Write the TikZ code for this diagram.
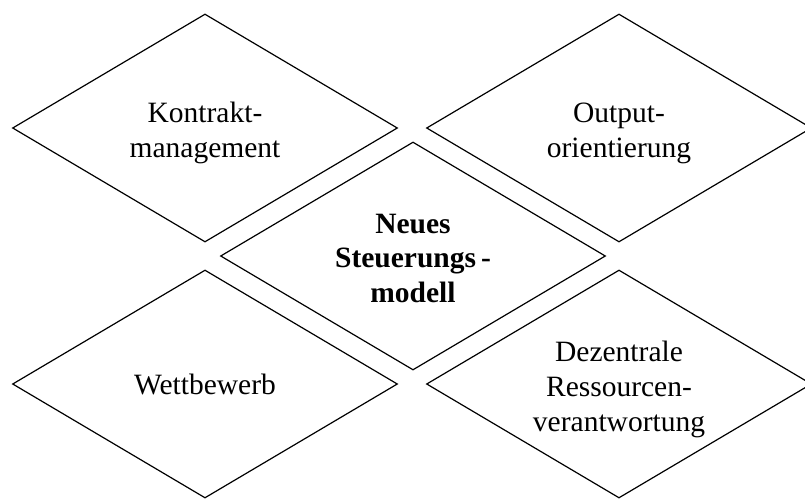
\documentclass[tikz,border=0pt]{standalone}
\usepackage{fontspec}
\setmainfont{Liberation Serif}
\usetikzlibrary{shapes.geometric}
\begin{document}
\begin{tikzpicture}[x=1pt,y=-1pt,
  rhomb/.style={shape=diamond, draw, line width=1.2pt, inner sep=0pt,
    minimum width=385pt, minimum height=228pt},
  txt/.style={align=center, inner sep=0pt, anchor=base, font=\fontsize{29.5}{35}\selectfont}]
\useasboundingbox (0,0) rectangle (805,498);
\fill[white] (0,0) rectangle (805,498);
\node[rhomb] (km) at (205,128) {};
\node[rhomb] (oo) at (619,128) {};
\node[rhomb] (nsm) at (413,256) {};
\node[rhomb] (wb) at (205,384) {};
\node[rhomb] (dr) at (619,384) {};
\node[txt] (kmt) at (205,157) {Kontrakt-\\management};
\node[txt] (oot) at (619,157) {Output-\\orientierung};
\node[txt, font=\fontsize{29.5}{34.5}\selectfont\bfseries] (nsmt) at (413,302) {Neues\\Steuerungs\,-\\modell};
\node[txt] (wbt) at (205,394) {Wettbewerb};
\node[txt] (drt) at (619,431) {Dezentrale\\Ressourcen-\\verantwortung};
\end{tikzpicture}
\end{document}
